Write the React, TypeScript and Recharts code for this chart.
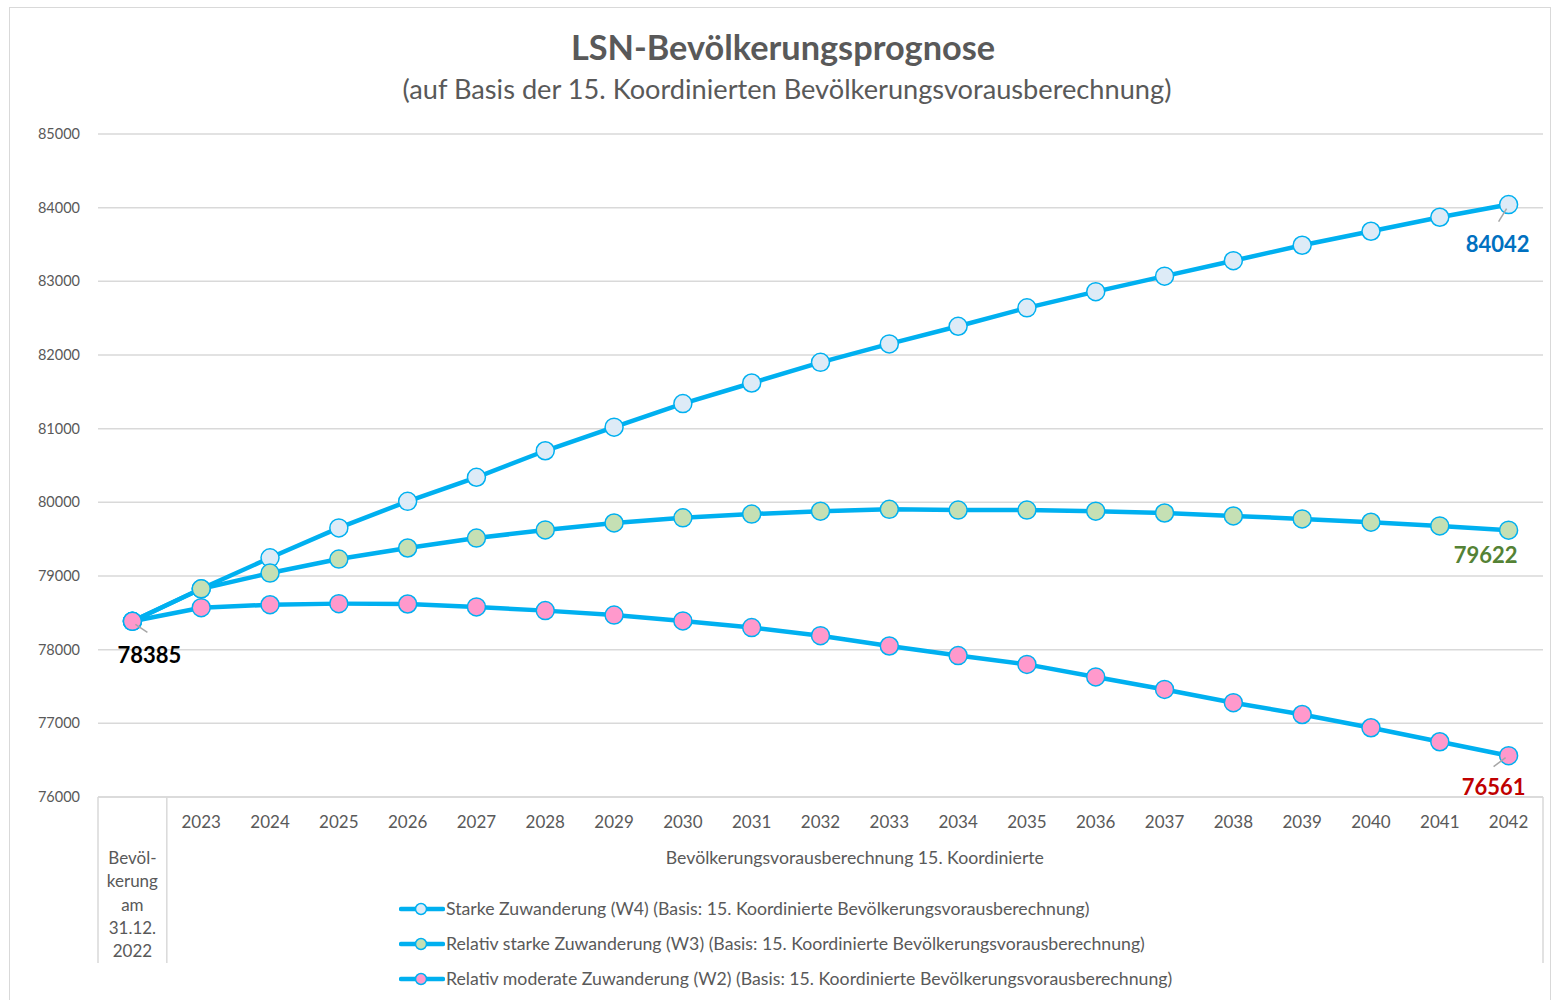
import { LineChart, Line, XAxis, YAxis, CartesianGrid, Legend, LabelList } from 'recharts';

const categories = [
  'Bevölkerung am 31.12. 2022',
  '2023', '2024', '2025', '2026', '2027', '2028', '2029', '2030', '2031', '2032',
  '2033', '2034', '2035', '2036', '2037', '2038', '2039', '2040', '2041', '2042',
];
const firstCategoryLines = ['Bevöl-', 'kerung', 'am', '31.12.', '2022'];
const groupLabel = 'Bevölkerungsvorausberechnung 15. Koordinierte';

// Starke Zuwanderung (W4)
const w4 = [
  78385, 78826, 79247, 79653, 80014, 80340, 80700, 81020, 81340, 81620, 81900,
  82150, 82390, 82640, 82860, 83070, 83280, 83490, 83680, 83870, 84042,
];
// Relativ starke Zuwanderung (W3)
const w3 = [
  78385, 78826, 79040, 79230, 79380, 79515, 79625, 79720, 79790, 79840, 79880,
  79905, 79895, 79895, 79880, 79855, 79815, 79775, 79730, 79680, 79622,
];
// Relativ moderate Zuwanderung (W2)
const w2 = [
  78385, 78570, 78610, 78625, 78620, 78580, 78530, 78470, 78390, 78300, 78190,
  78050, 77920, 77800, 77630, 77460, 77280, 77120, 76940, 76750, 76561,
];

const seriesNames = [
  'Starke Zuwanderung (W4) (Basis: 15. Koordinierte Bevölkerungsvorausberechnung)',
  'Relativ starke Zuwanderung (W3) (Basis: 15. Koordinierte Bevölkerungsvorausberechnung)',
  'Relativ moderate Zuwanderung (W2) (Basis: 15. Koordinierte Bevölkerungsvorausberechnung)',
];
const yTicks = [76000, 77000, 78000, 79000, 80000, 81000, 82000, 83000, 84000, 85000];

const data = categories.map((cat, i) => ({ cat, w4: w4[i], w3: w3[i], w2: w2[i] }));

const FONT = 'Lato, "Open Sans", sans-serif';
const GREY = '#595959';
const LINE = '#00B0F0';
const GRID = '#D9D9D9';
const fills = ['#DDEBF7', '#C5E0B4', '#FF99CC'];

// plot geometry
const PLOT_LEFT = 98;
const PLOT_RIGHT = 1543;
const STEP = (PLOT_RIGHT - PLOT_LEFT) / categories.length;
const AXIS_H = 166;

function CategoryTick(props: any) {
  const { x, y, payload, index } = props;
  const half = STEP / 2;
  const sep = (lx: number) => (
    <line x1={lx} x2={lx} y1={y} y2={y + AXIS_H} stroke={GRID} strokeWidth={1.5} />
  );
  if (index === 0) {
    return (
      <g>
        {sep(x - half)}
        {sep(x + half)}
        {firstCategoryLines.map((t, i) => (
          <text key={t} x={x} y={y + 67 + i * 23.3} textAnchor="middle" fill={GREY} fontSize={17} fontFamily={FONT}>
            {t}
          </text>
        ))}
      </g>
    );
  }
  return (
    <g>
      {index === categories.length - 1 && sep(x + half)}
      {index === 10 && (
        <text x={x + half} y={y + 67} textAnchor="middle" fill={GREY} fontSize={17.7} fontFamily={FONT}>
          {groupLabel}
        </text>
      )}
      <text x={x} y={y + 31} textAnchor="middle" fill={GREY} fontSize={17} fontFamily={FONT}>
        {payload.value}
      </text>
    </g>
  );
}

function makeEndLabel(at: number, color: string, dx: number, dy: number, leader: number[] | null) {
  return (props: any) => {
    const { x, y, value, index } = props;
    if (index !== at) return null;
    return (
      <g>
        {leader && (
          <line x1={x + leader[0]} y1={y + leader[1]} x2={x + leader[2]} y2={y + leader[3]} stroke="#A6A6A6" strokeWidth={1.5} />
        )}
        <text x={x + dx} y={y + dy} textAnchor="middle" fill={color} fontSize={22} fontWeight="bold" fontFamily={FONT}>
          {value}
        </text>
      </g>
    );
  };
}

function LegendContent() {
  return (
    <div style={{ fontFamily: FONT, fontSize: 17.7, color: GREY }}>
      {seriesNames.map((name, i) => (
        <div key={name} style={{ display: 'flex', alignItems: 'center', height: 35 }}>
          <svg width={46} height={14} style={{ marginRight: 1 }}>
            <line x1={2} x2={44} y1={7} y2={7} stroke={LINE} strokeWidth={4.5} strokeLinecap="round" />
            <circle cx={22} cy={7} r={5.5} fill={fills[i]} stroke={LINE} strokeWidth={1.5} />
          </svg>
          <span>{name}</span>
        </div>
      ))}
    </div>
  );
}

export default function App() {
  return (
    <div style={{ position: 'absolute', left: 0, top: 0, width: 1553, height: 1000, background: '#fff', overflow: 'hidden' }}>
      <div style={{ position: 'absolute', left: 9, top: 7, width: 1542, height: 1000, border: `1.5px solid ${GRID}`, boxSizing: 'border-box' }} />
      <div style={{ position: 'absolute', left: 0, width: 1566, top: 26, textAlign: 'center', fontFamily: FONT, fontWeight: 'bold', fontSize: 34.3, color: GREY, lineHeight: '42px' }}>
        LSN-Bevölkerungsprognose
      </div>
      <div style={{ position: 'absolute', left: 0, width: 1574, top: 72, textAlign: 'center', fontFamily: FONT, fontSize: 27.2, color: GREY, lineHeight: '34px' }}>
        (auf Basis der 15. Koordinierten Bevölkerungsvorausberechnung)
      </div>
      <LineChart
        width={1553}
        height={1000}
        data={data}
        margin={{ top: 134, right: 1553 - PLOT_RIGHT, left: 10, bottom: 1000 - 797 - AXIS_H }}
        style={{ position: 'absolute', left: 0, top: 0 }}
      >
        <CartesianGrid vertical={false} stroke={GRID} strokeWidth={1.5} />
        <XAxis
          dataKey="cat"
          scale="point"
          padding={{ left: STEP / 2, right: STEP / 2 }}
          interval={0}
          height={AXIS_H}
          tickLine={false}
          tickSize={0}
          tickMargin={0}
          axisLine={{ stroke: GRID, strokeWidth: 1.5 }}
          tick={<CategoryTick />}
        />
        <YAxis
          width={PLOT_LEFT - 10}
          domain={[76000, 85000]}
          ticks={yTicks}
          axisLine={false}
          tickLine={false}
          tickSize={0}
          tickMargin={18}
          tick={{ fill: GREY, fontSize: 14.5, fontFamily: FONT }}
        />
        <Legend
          layout="vertical"
          align="center"
          verticalAlign="middle"
          content={<LegendContent />}
          wrapperStyle={{ left: 399, top: 891, width: 'auto', height: 'auto' }}
        />
        <Line
          dataKey="w4"
          name={seriesNames[0]}
          stroke={LINE}
          strokeWidth={4.5}
          dot={{ r: 9, fill: fills[0], stroke: LINE, strokeWidth: 1.5 }}
          activeDot={false}
          isAnimationActive={false}
        >
          <LabelList dataKey="w4" content={makeEndLabel(categories.length - 1, '#0070C0', -11, 47, [-2, 4, -10, 17])} />
        </Line>
        <Line
          dataKey="w3"
          name={seriesNames[1]}
          stroke={LINE}
          strokeWidth={4.5}
          dot={{ r: 9, fill: fills[1], stroke: LINE, strokeWidth: 1.5 }}
          activeDot={false}
          isAnimationActive={false}
        >
          <LabelList dataKey="w3" content={makeEndLabel(categories.length - 1, '#548235', -23, 33, null)} />
        </Line>
        <Line
          dataKey="w2"
          name={seriesNames[2]}
          stroke={LINE}
          strokeWidth={4.5}
          dot={{ r: 9, fill: fills[2], stroke: LINE, strokeWidth: 1.5 }}
          activeDot={false}
          isAnimationActive={false}
        >
          <LabelList dataKey="w2" content={makeEndLabel(categories.length - 1, '#C00000', -15, 39, [-3, 2, -15, 11])} />
          <LabelList dataKey="w2" content={makeEndLabel(0, '#000000', 17, 42, [3, 3, 15, 11])} />
        </Line>
      </LineChart>
    </div>
  );
}
